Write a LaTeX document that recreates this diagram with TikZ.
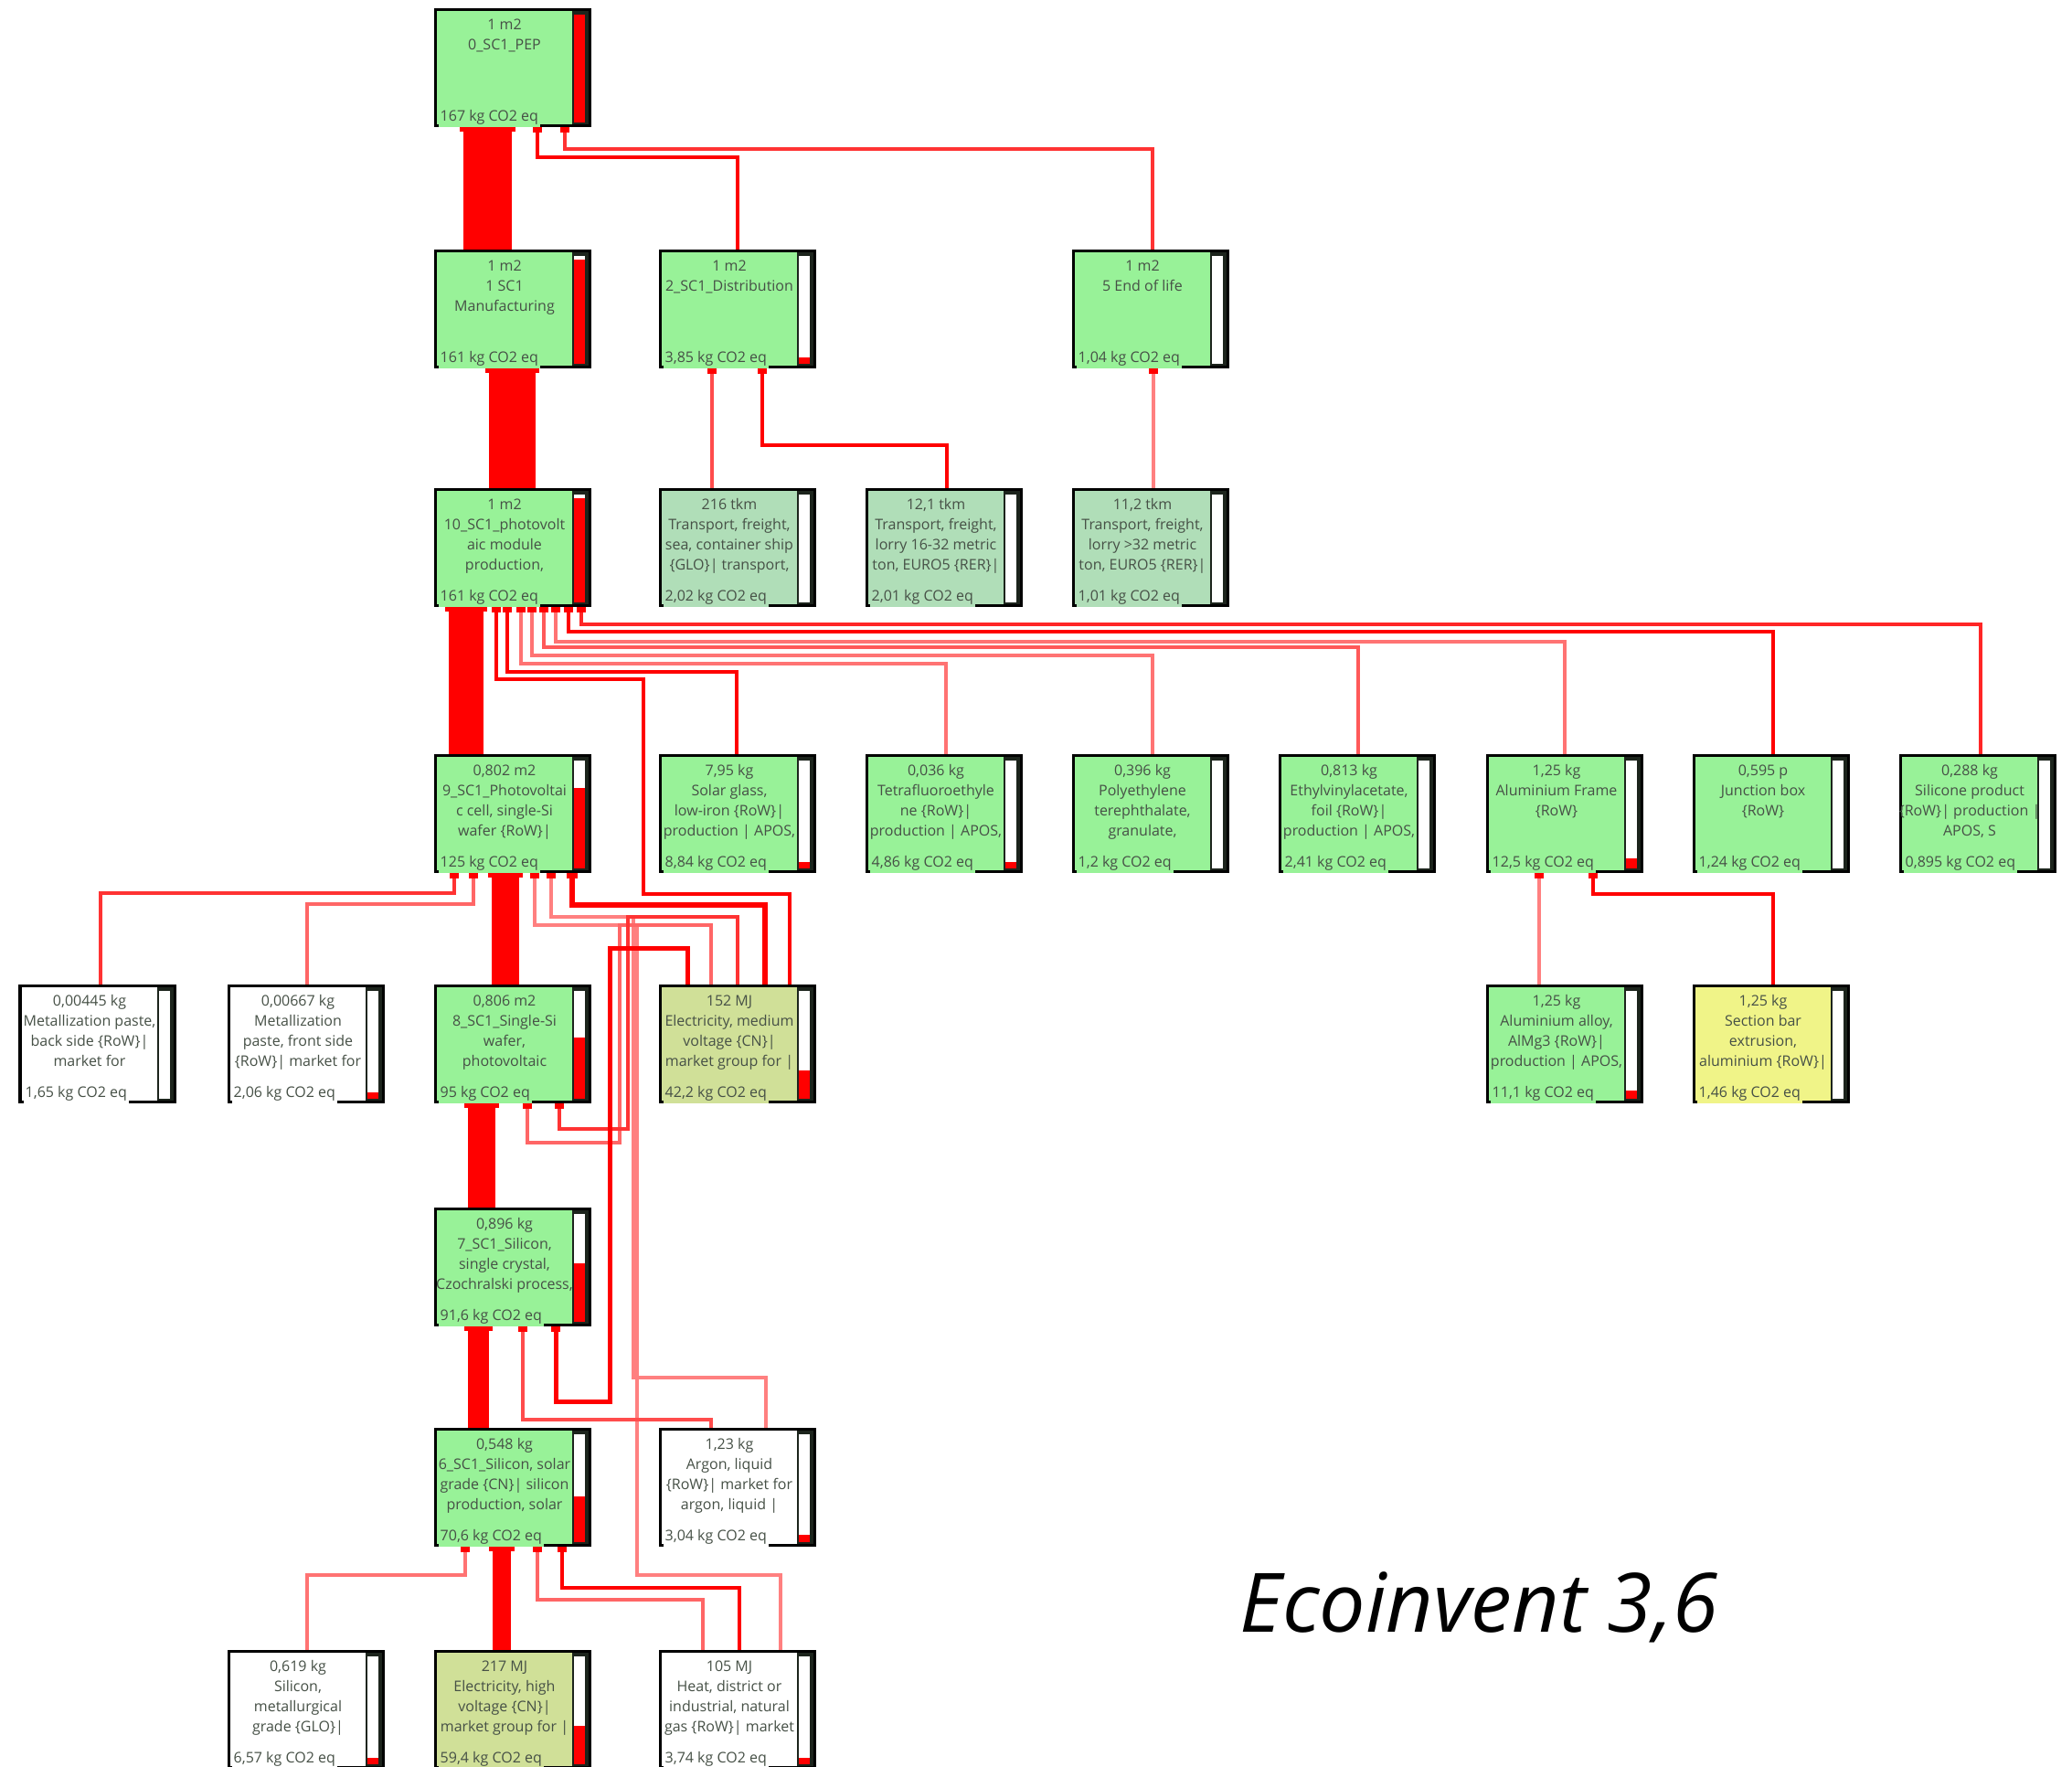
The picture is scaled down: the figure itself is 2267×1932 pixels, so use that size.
\documentclass[tikz,border=0pt]{standalone}
\usepackage{fontspec}
\newfontfamily\boxfont{Open Sans}
\newfontfamily\titlefont{Open Sans}
\usetikzlibrary{calc}
\definecolor{gbox}{RGB}{152,242,152}
\definecolor{tbox}{RGB}{176,222,184}
\definecolor{ebox}{RGB}{208,224,152}
\definecolor{ybox}{RGB}{240,244,136}
\definecolor{txt}{RGB}{70,80,70}
\definecolor{framec}{RGB}{28,36,28}
\pgfdeclarelayer{back}
\pgfdeclarelayer{bg}
\pgfsetlayers{back,bg,main}
\tikzset{
  pbx/.style={rectangle, minimum width=1.69cm, minimum height=1.27cm, inner sep=0pt, outer sep=0pt},
  toptext/.style={anchor=north, inner sep=0pt, align=center, text=txt,
    font=\boxfont\fontsize{4.55pt}{6.26pt}\selectfont},
  co2text/.style={anchor=base west, inner xsep=0.02cm, inner ysep=0pt, text=txt,
    text height=0.12cm, text depth=0.07cm, font=\boxfont\fontsize{4.55pt}{6.26pt}\selectfont},
  flow/.style={draw=red, line width=0.035cm},
  lflow/.style={draw=red!#1, line width=0.04cm},
}
% name, x, y, fill, top text, co2 text, red height
\newcommand{\procbox}[7]{%
  \node[pbx, fill=#4, anchor=north west] (#1) at (#2,#3) {};
  \fill[framec] ($(#1.north east)+(-19,0)$) rectangle (#1.south east);
  \fill[white] ($(#1.north east)+(-17,6)$) rectangle ($(#1.south east)+(-5,-3)$);
  \ifnum#7>0 \fill[red] ($(#1.south east)+(-17,-3)$) rectangle ($(#1.south east)+(-5,-3-#7)$);\fi
  \draw[line width=0.03cm, black] (#1.north west) rectangle (#1.south east);
  \node[toptext] (#1-t) at ($(#1.north west)+(76,8)$) {\rule{0pt}{0.14cm}#5};
  \node[co2text, fill=#4] (#1-c) at ($(#1.south west)+(3,-5)$) {#6};
}
\newcommand{\flowmark}[3][red]{\fill[#1] ($(#2.south west)+(#3,0)+(-5,0)$) rectangle ++(10,8);}
% parent, dx1, dx2, child
\newcommand{\barflow}[4]{%
  \fill[red] ($(#1.south west)+(#2,0)$) rectangle ($(#4.north west)+(#3,0)$);
  \fill[red] ($(#1.south west)+(#2,0)+(-4,0)$) rectangle ($(#1.south west)+(#3,0)+(4,7)$);
}
\begin{document}
\begin{tikzpicture}[x=0.01cm, y=-0.01cm]
\useasboundingbox (0,0) rectangle (2267,1932);
\begin{pgfonlayer}{back}
\fill[white] (0,0) rectangle (2267,1932);
\end{pgfonlayer}

% row 0
\procbox{pep}{476}{10}{gbox}{1 m2\\0\_SC1\_PEP}{167 kg CO2 eq}{118}
% row 1
\procbox{manu}{476}{274}{gbox}{1 m2\\1 SC1\\Manufacturing}{161 kg CO2 eq}{114}
\procbox{dist}{722}{274}{gbox}{1 m2\\2\_SC1\_Distribution}{3,85 kg CO2 eq}{7}
\procbox{eol}{1174}{274}{gbox}{1 m2\\5 End of life}{1,04 kg CO2 eq}{0}
% row 2
\procbox{m10}{476}{535}{gbox}{1 m2\\10\_SC1\_photovolt\\aic module\\production,}{161 kg CO2 eq}{114}
\procbox{t216}{722}{535}{tbox}{216 tkm\\Transport, freight,\\sea, container ship\\\{GLO\}| transport,}{2,02 kg CO2 eq}{0}
\procbox{t121}{948}{535}{tbox}{12,1 tkm\\Transport, freight,\\lorry 16-32 metric\\ton, EURO5 \{RER\}|}{2,01 kg CO2 eq}{0}
\procbox{t112}{1174}{535}{tbox}{11,2 tkm\\Transport, freight,\\lorry >32 metric\\ton, EURO5 \{RER\}|}{1,01 kg CO2 eq}{0}
% row 3
\procbox{cell}{476}{826}{gbox}{0,802 m2\\9\_SC1\_Photovoltai\\c cell, single-Si\\wafer \{RoW\}|}{125 kg CO2 eq}{88}
\procbox{glass}{722}{826}{gbox}{7,95 kg\\Solar glass,\\low-iron \{RoW\}|\\production | APOS,}{8,84 kg CO2 eq}{7}
\procbox{tfe}{948}{826}{gbox}{0,036 kg\\Tetrafluoroethyle\\ne \{RoW\}|\\production | APOS,}{4,86 kg CO2 eq}{7}
\procbox{pet}{1174}{826}{gbox}{0,396 kg\\Polyethylene\\terephthalate,\\granulate,}{1,2 kg CO2 eq}{0}
\procbox{eva}{1400}{826}{gbox}{0,813 kg\\Ethylvinylacetate,\\foil \{RoW\}|\\production | APOS,}{2,41 kg CO2 eq}{0}
\procbox{alf}{1627}{826}{gbox}{1,25 kg\\Aluminium Frame\\\{RoW\}}{12,5 kg CO2 eq}{11}
\procbox{jbox}{1853}{826}{gbox}{0,595 p\\Junction box\\\{RoW\}}{1,24 kg CO2 eq}{0}
\procbox{sil}{2079}{826}{gbox}{0,288 kg\\Silicone product\\\{RoW\}| production |\\APOS, S}{0,895 kg CO2 eq}{0}
% row 4
\procbox{mback}{22}{1078}{white}{0,00445 kg\\Metallization paste,\\back side \{RoW\}|\\market for}{1,65 kg CO2 eq}{0}
\procbox{mfront}{250}{1078}{white}{0,00667 kg\\Metallization\\paste, front side\\\{RoW\}| market for}{2,06 kg CO2 eq}{7}
\procbox{wafer}{476}{1078}{gbox}{0,806 m2\\8\_SC1\_Single-Si\\wafer,\\photovoltaic}{95 kg CO2 eq}{67}
\procbox{elmv}{722}{1078}{ebox}{152 MJ\\Electricity, medium\\voltage \{CN\}|\\market group for |}{42,2 kg CO2 eq}{31}
\procbox{alloy}{1627}{1078}{gbox}{1,25 kg\\Aluminium alloy,\\AlMg3 \{RoW\}|\\production | APOS,}{11,1 kg CO2 eq}{9}
\procbox{sbar}{1853}{1078}{ybox}{1,25 kg\\Section bar\\extrusion,\\aluminium \{RoW\}|}{1,46 kg CO2 eq}{0}
% row 5
\procbox{czo}{476}{1322}{gbox}{0,896 kg\\7\_SC1\_Silicon,\\single crystal,\\Czochralski process,}{91,6 kg CO2 eq}{64}
% row 6
\procbox{sisg}{476}{1563}{gbox}{0,548 kg\\6\_SC1\_Silicon, solar\\grade \{CN\}| silicon\\production, solar}{70,6 kg CO2 eq}{50}
\procbox{argon}{722}{1563}{white}{1,23 kg\\Argon, liquid\\\{RoW\}| market for\\argon, liquid |}{3,04 kg CO2 eq}{8}
% row 7
\procbox{simg}{250}{1806}{white}{0,619 kg\\Silicon,\\metallurgical\\grade \{GLO\}|}{6,57 kg CO2 eq}{7}
\procbox{elhv}{476}{1806}{ebox}{217 MJ\\Electricity, high\\voltage \{CN\}|\\market group for |}{59,4 kg CO2 eq}{42}
\procbox{heat}{722}{1806}{white}{105 MJ\\Heat, district or\\industrial, natural\\gas \{RoW\}| market}{3,74 kg CO2 eq}{7}

\node[font=\titlefont\itshape\fontsize{25.5pt}{30pt}\selectfont, anchor=base west, inner sep=0pt] (title) at (1356,1785) {Ecoinvent 3,6};

\begin{pgfonlayer}{bg}
% thick flows
\barflow{pep}{31}{84}{manu}
\barflow{manu}{59}{110}{m10}
\barflow{m10}{15}{53}{cell}
\barflow{cell}{62}{92}{wafer}
\barflow{wafer}{36}{66}{czo}
\barflow{czo}{36}{59}{sisg}
\barflow{sisg}{63}{83}{elhv}
% to PEP
\draw[flow] ($(dist.north west)+(85,0)$) -- ++(0,-102) -| ($(pep.south west)+(112,0)$);
\flowmark{pep}{112}
\draw[lflow=80] ($(eol.north west)+(87,0)$) -- ++(0,-111) -| ($(pep.south west)+(142,0)$);
\flowmark{pep}{142}
% to distribution / end of life
\draw[lflow=70] ($(t216.north west)+(57,0)$) -- ($(dist.south west)+(57,0)$);
\flowmark{dist}{57}
\draw[flow] ($(t121.north west)+(88,0)$) -- ++(0,-48) -| ($(dist.south west)+(112,0)$);
\flowmark{dist}{112}
\draw[lflow=50] ($(t112.north west)+(88,0)$) -- ($(eol.south west)+(88,0)$);
\flowmark{eol}{88}
% to module production
\draw[flow] ($(elmv.north west)+(142,0)$) -- ++(0,-100) -- ++(-160,0) -- ++(0,-235) -| ($(m10.south west)+(67,0)$);
\flowmark{m10}{67}
\draw[flow] ($(glass.north west)+(84,0)$) -- ++(0,-91) -| ($(m10.south west)+(79,0)$);
\flowmark{m10}{79}
\draw[lflow=55] ($(tfe.north west)+(87,0)$) -- ++(0,-100) -| ($(m10.south west)+(94,0)$);
\flowmark{m10}{94}
\draw[lflow=55] ($(pet.north west)+(87,0)$) -- ++(0,-109) -| ($(m10.south west)+(106,0)$);
\flowmark{m10}{106}
\draw[lflow=65] ($(eva.north west)+(86,0)$) -- ++(0,-118) -| ($(m10.south west)+(119,0)$);
\flowmark{m10}{119}
\draw[lflow=55] ($(alf.north west)+(85,0)$) -- ++(0,-124) -| ($(m10.south west)+(132,0)$);
\flowmark{m10}{132}
\draw[flow] ($(jbox.north west)+(87,0)$) -- ++(0,-135) -| ($(m10.south west)+(146,0)$);
\flowmark{m10}{146}
\draw[lflow=85] ($(sil.north west)+(88,0)$) -- ++(0,-143) -| ($(m10.south west)+(160,0)$);
\flowmark{m10}{160}
% to cell
\draw[lflow=80] ($(mback.north west)+(88,0)$) -- ++(0,-101) -| ($(cell.south west)+(21,0)$);
\flowmark{cell}{21}
\draw[lflow=60] ($(mfront.north west)+(86,0)$) -- ++(0,-89) -| ($(cell.south west)+(42,0)$);
\flowmark{cell}{42}
\draw[lflow=50] ($(heat.north west)+(132,0)$) -- ++(0,-83) -- ++(-157,0) -- ++(0,-711) -| ($(cell.south west)+(109,0)$);
\flowmark{cell}{109}
\draw[lflow=50] ($(argon.north west)+(116,0)$) -- ++(0,-56) -- ++(-145,0) -- ++(0,-504) -| ($(cell.south west)+(127,0)$);
\flowmark{cell}{127}
\draw[draw=red, line width=0.06cm] ($(elmv.north west)+(115,0)$) -- ++(0,-88) -| ($(cell.south west)+(150,0)$);
\fill[red] ($(cell.south west)+(150,0)+(-6,0)$) rectangle ++(12,8);
% to wafer
\draw[lflow=60] ($(elmv.north west)+(56,0)$) -- ++(0,-66) -- ++(-100,0) -- ++(0,238) -| ($(wafer.south west)+(101,0)$);
\flowmark{wafer}{101}
\draw[lflow=80] ($(elmv.north west)+(85,0)$) -- ++(0,-75) -- ++(-120,0) -- ++(0,232) -| ($(wafer.south west)+(136,0)$);
\flowmark{wafer}{136}
% to Czochralski
\draw[draw=red, line width=0.05cm] ($(elmv.north west)+(30,0)$) -- ++(0,-41) -- ++(-85,0) -- ++(0,496) -| ($(czo.south west)+(132,0)$);
\flowmark{czo}{132}
\draw[lflow=70] ($(argon.north west)+(56,0)$) -- ++(0,-10) -| ($(czo.south west)+(96,0)$);
\flowmark{czo}{96}
% to solar grade silicon
\draw[lflow=55] ($(simg.north west)+(86,0)$) -- ++(0,-83) -| ($(sisg.south west)+(33,0)$);
\flowmark{sisg}{33}
\draw[lflow=60] ($(heat.north west)+(47,0)$) -- ++(0,-56) -| ($(sisg.south west)+(112,0)$);
\flowmark{sisg}{112}
\draw[flow] ($(heat.north west)+(87,0)$) -- ++(0,-69) -| ($(sisg.south west)+(139,0)$);
\flowmark{sisg}{139}
% to aluminium frame
\draw[lflow=50] ($(alloy.north west)+(57,0)$) -- ($(alf.south west)+(57,0)$);
\flowmark{alf}{57}
\draw[flow] ($(sbar.north west)+(87,0)$) -- ++(0,-100) -| ($(alf.south west)+(116,0)$);
\flowmark{alf}{116}
\end{pgfonlayer}
\end{tikzpicture}
\end{document}
